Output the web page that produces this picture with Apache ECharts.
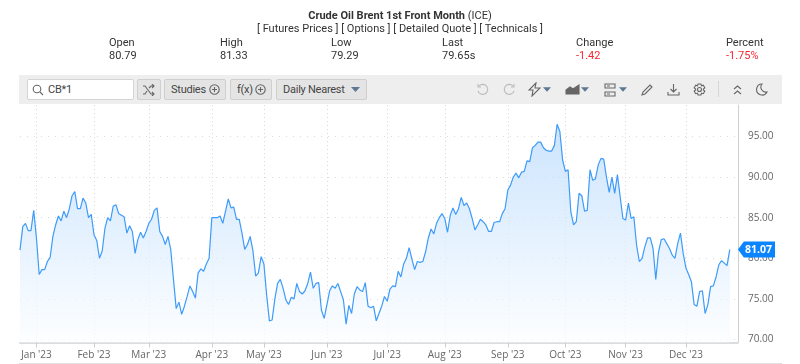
<!DOCTYPE html>
<html>
<head>
<meta charset="utf-8">
<script src="https://cdn.jsdelivr.net/npm/echarts@6/dist/echarts.min.js"></script>
<style>
    html, body { margin: 0; padding: 0; background: #fff; }
    body { width: 800px; height: 364px; position: relative; overflow: hidden; font-family: Roboto, sans-serif; color: #333; }
    .t { position: absolute; white-space: nowrap; font-size: 11px; line-height: 13px; }
    .center { left: 0; width: 800px; text-align: center; }
    .red { color: #f5282f; }
    #chart { position: absolute; left: 0; top: 0; width: 800px; height: 364px; }
    #toolbar { position: absolute; left: 19px; top: 75px; width: 763px; height: 29px; background: #eeeeee; }
    .btn { position: absolute; top: 4px; height: 19px; line-height: 19px; background: #e4e4e4; border: 1px solid #cfcfcf; border-radius: 2px; font-size: 11px; letter-spacing: -0.25px; color: #444; white-space: nowrap; }
    #search { left: 8px; width: 105px; background: #fff; border-color: #d4d4d4; }
    #toolbar svg { position: absolute; fill: none; stroke: #666; stroke-width: 1.1; }
    #bottomLine { position: absolute; left: 19px; top: 363px; width: 763px; height: 1px; background: #e2e2e2; }
</style>
</head>
<body>
<div id="chart"></div>
<div class="t center" style="top:9px"><b>Crude Oil Brent 1st Front Month</b> (ICE)</div>
<div class="t center" style="top:22px">[ Futures Prices ] [ Options ] [ Detailed Quote ] [ Technicals ]</div>
<div class="t" style="left:109px;top:36px">Open</div><div class="t" style="left:109px;top:49px">80.79</div>
<div class="t" style="left:220px;top:36px">High</div><div class="t" style="left:220px;top:49px">81.33</div>
<div class="t" style="left:331px;top:36px">Low</div><div class="t" style="left:331px;top:49px">79.29</div>
<div class="t" style="left:442px;top:36px">Last</div><div class="t" style="left:442px;top:49px">79.65s</div>
<div class="t" style="left:576px;top:36px">Change</div><div class="t red" style="left:576px;top:49px">-1.42</div>
<div class="t" style="left:726px;top:36px">Percent</div><div class="t red" style="left:726px;top:49px">-1.75%</div>

<div id="toolbar">
    <div class="btn" id="search"><span style="position:absolute;left:20px">CB*1</span></div>
    <svg style="left:13px;top:9px" width="12" height="12" viewBox="0 0 12 12"><circle cx="5" cy="5" r="3.8"/><path d="M8 8l3 3"/></svg>
    <div class="btn" style="left:118px;width:22px"></div>
    <svg style="left:123px;top:9px" width="13" height="12" viewBox="0 0 13 12"><path d="M1 2h2l6 8h3M1 10h2l2-3M7 4l2-2h3M10 0l2 2-2 2M10 8l2 2-2 2"/></svg>
    <div class="btn" style="left:145px;width:60px"><span style="position:absolute;left:6px">Studies</span></div>
    <svg style="left:190px;top:9px" width="11" height="11" viewBox="0 0 11 11"><circle cx="5.5" cy="5.5" r="4.7"/><path d="M3 5.5h5M5.5 3v5"/></svg>
    <div class="btn" style="left:211px;width:40px"><span style="position:absolute;left:6px">f(x)</span></div>
    <svg style="left:236px;top:9px" width="11" height="11" viewBox="0 0 11 11"><circle cx="5.5" cy="5.5" r="4.7"/><path d="M3 5.5h5M5.5 3v5"/></svg>
    <div class="btn" style="left:257px;width:89px"><span style="position:absolute;left:6px">Daily Nearest</span></div>
    <svg style="left:332px;top:12px;fill:#5b7793;stroke:none" width="9" height="6" viewBox="0 0 9 6"><path d="M0 0h9L4.500 5z"/></svg>

    <svg style="left:457px;top:8px;stroke:#bbb" width="13" height="13" viewBox="0 0 13 13"><path d="M3 3a5 5 0 1 1-1 5M2 1v3h3"/></svg>
    <svg style="left:484px;top:8px;stroke:#bbb" width="13" height="13" viewBox="0 0 13 13"><path d="M10 3a5 5 0 1 0 1 5M11 1v3h-3"/></svg>
    <svg style="left:509px;top:7px" width="13" height="15" viewBox="0 0 13 15"><path d="M8 1L1 8h4l-1 6 8-8H7z"/></svg>
    <svg style="left:524px;top:12px;fill:#5b7793;stroke:none" width="8" height="6" viewBox="0 0 9 6"><path d="M0 0h9L4.500 5z"/></svg>
    <svg style="left:546px;top:9px;fill:#666" width="15" height="11" viewBox="0 0 15 11"><path d="M1 10V6l4-3 3 2 6-4v9z"/></svg>
    <svg style="left:562px;top:12px;fill:#5b7793;stroke:none" width="8" height="6" viewBox="0 0 9 6"><path d="M0 0h9L4.500 5z"/></svg>
    <svg style="left:585px;top:8px" width="12" height="14" viewBox="0 0 12 14"><path d="M1 1h10v4H1zM1 9h10v4H1zM3 3h3M3 11h3"/></svg>
    <svg style="left:600px;top:12px;fill:#5b7793;stroke:none" width="8" height="6" viewBox="0 0 9 6"><path d="M0 0h9L4.500 5z"/></svg>
    <svg style="left:622px;top:8px" width="13" height="13" viewBox="0 0 13 13"><path d="M1 12l1-3 7-7 2 2-7 7z"/></svg>
    <svg style="left:648px;top:8px" width="13" height="13" viewBox="0 0 13 13"><path d="M6.500 1v8M3.500 6l3 3 3-3M1 9v3h11V9"/></svg>
    <svg style="left:674px;top:8px" width="13" height="13" viewBox="0 0 13 13"><circle cx="6.500" cy="6.500" r="2"/><path d="M5 1h3l.5 1.800 1.800-.6 1.500 2.600-1.400 1.200v.9l1.400 1.200-1.500 2.600-1.800-.6L8 12H5l-.5-1.900-1.800.6L1.200 8.100l1.400-1.200V6L1.200 4.800l1.500-2.600 1.800.6z"/></svg>
    <div style="position:absolute;left:699px;top:6px;width:1px;height:16px;background:#d5d5d5"></div>
    <svg style="left:714px;top:10px" width="9" height="10" viewBox="0 0 9 10"><path d="M1 4l3.500-3L8 4M1 9l3.500-3L8 9"/></svg>
    <svg style="left:737px;top:8px" width="12" height="13" viewBox="0 0 12 13"><path d="M6 1a5.500 5.500 0 1 0 5 8A5 5 0 0 1 6 1z"/></svg>
</div>
<div id="bottomLine"></div>

<script>
    //每个点一个交易日
    var prices = [
        81.0, 83.9, 84.3, 83.4, 83.4, 85.9, 82.5, 78.0, 78.6, 78.6, 79.6, 80.1, 82.7, 84.1, 85.2, 84.6, 85.8, 85.0, 86.1, 87.7,
        88.2, 86.1, 86.1, 87.4, 86.8, 85.0, 85.4, 82.9, 82.2, 80.0, 80.9, 83.7, 85.0, 84.6, 86.4, 86.6, 85.5, 85.3, 85.1, 83.1,
        84.0, 83.3, 80.6, 82.3, 83.2, 82.5, 83.3, 84.3, 84.8, 85.9, 86.2, 83.3, 82.7, 81.7, 82.7, 81.1, 77.4, 73.8, 74.6, 73.1,
        74.1, 75.3, 76.6, 75.9, 75.1, 78.2, 78.7, 78.4, 79.3, 80.0, 85.0, 85.0, 85.0, 85.2, 84.3, 85.8, 87.3, 86.2, 86.3, 84.8,
        84.8, 83.1, 81.1, 81.7, 82.7, 80.9, 77.8, 78.2, 80.2, 79.3, 75.5, 72.3, 72.4, 75.0, 76.9, 77.4, 76.3, 74.9, 74.3, 75.2,
        75.0, 76.9, 75.9, 75.6, 76.0, 76.9, 78.3, 76.3, 76.9, 77.0, 73.6, 72.6, 74.3, 76.0, 76.6, 76.3, 76.9, 75.9, 74.9, 71.9,
        74.2, 73.2, 75.6, 76.5, 76.1, 75.9, 77.0, 74.1, 73.9, 74.1, 72.3, 73.2, 74.1, 75.3, 74.7, 76.2, 76.6, 76.5, 78.4, 77.7,
        79.3, 80.0, 81.3, 79.9, 78.6, 79.6, 79.5, 79.6, 80.8, 82.5, 83.6, 83.0, 84.3, 85.0, 85.5, 84.9, 83.2, 85.3, 86.2, 85.4,
        86.1, 87.5, 86.5, 86.8, 86.1, 84.9, 83.5, 84.1, 84.8, 84.5, 84.1, 83.3, 83.3, 84.4, 84.5, 84.5, 85.5, 86.1, 88.4, 89.0,
        90.0, 90.5, 89.9, 90.6, 90.7, 92.0, 91.9, 93.6, 93.9, 94.3, 94.3, 93.6, 93.3, 93.2, 93.2, 93.9, 96.5, 95.6, 92.1, 90.7,
        90.9, 85.7, 84.1, 84.5, 88.0, 87.7, 85.8, 85.9, 90.9, 89.6, 89.8, 91.5, 92.3, 92.2, 90.0, 88.1, 90.0, 88.0, 90.3, 87.6,
        84.9, 84.7, 86.8, 84.9, 85.1, 81.6, 79.6, 80.0, 81.4, 82.5, 82.5, 81.2, 77.4, 80.8, 82.3, 82.4, 81.8, 81.2, 80.4, 80.0,
        81.8, 83.1, 80.6, 78.8, 78.0, 77.1, 74.3, 74.1, 75.9, 76.0, 73.2, 74.3, 76.5, 76.6, 77.7, 79.2, 79.7, 79.4, 79.1, 81.07
    ];
    var monthLabels = ["Jan '23", "Feb '23", "Mar '23", "Apr '23", "May '23", "Jun '23", "Jul '23", "Aug '23", "Sep '23", "Oct '23", "Nov '23", "Dec '23"];
    var monthIndex = [6, 27, 47, 70, 89, 112, 134, 155, 178, 199, 221, 243];
    var priceTicks = [70, 75, 80, 85, 90, 95];
    var lastPrice = 81.07;

    //右侧留3个空位，到坐标轴为止
    var categories = [];
    for (var i = 0; i < prices.length + 3; i++) {
        var m = monthIndex.indexOf(i);
        categories.push(m >= 0 ? monthLabels[m] : '');
    }
    function isMonth(index) {
        return monthIndex.indexOf(index) >= 0;
    }

    var chart = echarts.init(document.getElementById('chart'));
    chart.setOption({
        animation: false,
        textStyle: {fontFamily: '"Open Sans", sans-serif'},
        grid: {left: 20, right: 62, top: 105, bottom: 21.5},
        xAxis: {
            type: 'category',
            data: categories,
            boundaryGap: false,
            axisLine: {lineStyle: {color: '#dcdcdc', width: 2}},
            axisTick: {interval: isMonth, length: 5, lineStyle: {color: '#cccccc'}},
            axisLabel: {interval: isMonth, color: '#666', fontSize: 10, margin: 8, hideOverlap: false},
            splitLine: {show: true, interval: isMonth, lineStyle: {color: '#d9d9d9', type: [1, 3]}}
        },
        yAxis: {
            type: 'value',
            position: 'right',
            min: 69.63,
            max: 98.87,
            axisLine: {show: true, lineStyle: {color: '#d0d0d0'}},
            axisTick: {show: false, customValues: priceTicks},
            axisLabel: {
                customValues: priceTicks,
                color: '#666',
                fontSize: 10,
                margin: 10,
                padding: [2, 0, 0, 0],
                formatter: function (v) { return v.toFixed(2); }
            },
            splitLine: {show: true, lineStyle: {color: '#d9d9d9', type: [1, 6]}}
        },
        series: [{
            type: 'line',
            data: prices,
            symbol: 'none',
            smooth: false,
            lineStyle: {color: '#3d9bfa', width: 1.2},
            areaStyle: {
                origin: 'start',
                color: new echarts.graphic.LinearGradient(0, 0, 0, 1, [
                    {offset: 0, color: '#b6d8fb'},
                    {offset: 1, color: '#fbfdff'}
                ])
            },
            markPoint: {
                silent: true,
                symbol: 'path://M0 8L6 0H38V16H6Z',
                symbolSize: [37, 16],
                symbolKeepAspect: false,
                symbolOffset: [18.500, 0],
                itemStyle: {color: '#0a84ff'},
                label: {
                    color: '#fff',
                    fontSize: 10.500,
                    fontWeight: 'bold',
                    offset: [2, 0],
                    formatter: lastPrice.toFixed(2)
                },
                data: [{coord: [categories.length - 1, lastPrice]}]
            }
        }]
    });
</script>
</body>
</html>
